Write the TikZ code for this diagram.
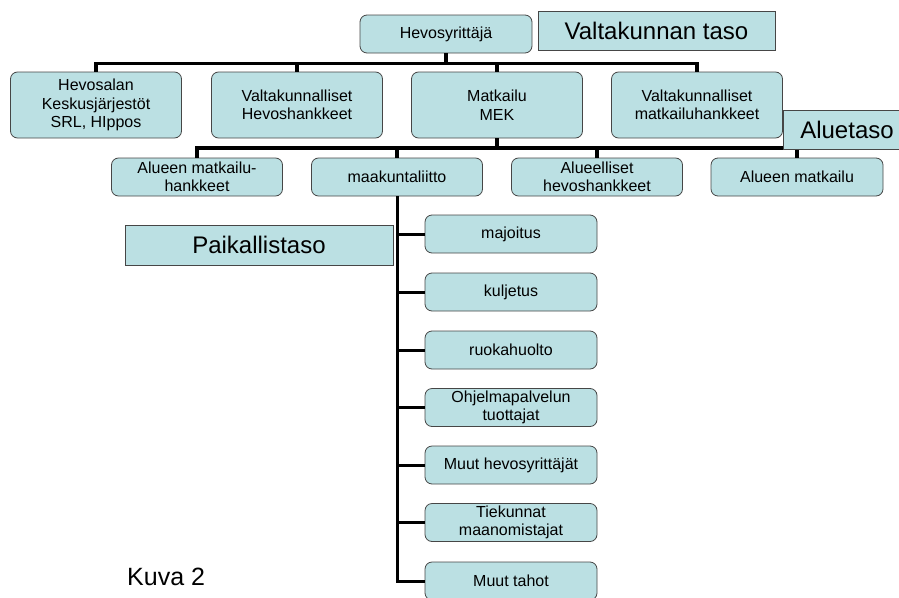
\documentclass[tikz,border=0pt]{standalone}
\usepackage{fontspec}
\setmainfont{Liberation Sans}
\usetikzlibrary{positioning, calc}
\definecolor{boxcyan}{RGB}{187,224,227}
\definecolor{boxline}{RGB}{70,70,70}
\tikzset{
    orgbox/.style={
        draw=boxline, fill=boxcyan, rounded corners=7pt, line width=0.8pt,
        align=center, inner sep=1pt, font=\fontsize{16}{18.5}\selectfont
    },
    bigbox/.style={
        orgbox, minimum width=171pt, minimum height=66pt
    },
    smallbox/.style={
        orgbox, minimum width=171pt, minimum height=38pt
    },
    levelbox/.style={
        draw=boxline, fill=boxcyan, line width=0.8pt, minimum height=39pt,
        font=\fontsize{24}{28}\selectfont
    },
    conn/.style={
        line width=3.5pt, black
    }
}

\begin{document}
\begin{tikzpicture}[x=1pt, y=-1pt]
    \useasboundingbox (0,0) rectangle (899,597);

    % --- valtakunnan taso ---
    \node[smallbox, minimum width=172pt] (yrittaja) at (446,34) {Hevosyrittäjä};
    \node[levelbox, minimum width=237pt] (valtakunta) at (656.5,30.5) {Valtakunnan taso};

    \node[bigbox] (keskus) at (96,105) {Hevosalan\\Keskusjärjestöt\\SRL, HIppos};
    \node[bigbox] (vhevos) at (297,105) {Valtakunnalliset\\Hevoshankkeet};
    \node[bigbox] (mek) at (497,105) {Matkailu\\MEK};
    \node[bigbox] (vmatkailu) at (697,105) {Valtakunnalliset\\matkailuhankkeet};

    % --- aluetaso ---
    \node[smallbox] (amhank) at (197,177) {Alueen matkailu-\\hankkeet};
    \node[smallbox] (maakunta) at (397,177) {maakuntaliitto};
    \node[smallbox] (ahevos) at (597,177) {Alueelliset\\hevoshankkeet};
    \node[smallbox, minimum width=172pt] (amatkailu) at (797,177) {Alueen matkailu};

    % --- paikallistaso ---
    \node[levelbox, minimum width=268pt, minimum height=40pt] (paikallinen) at (259,245) {Paikallistaso};

    \node[smallbox, minimum width=172pt] (majoitus) at (511,234) {majoitus};
    \node[smallbox, minimum width=172pt] (kuljetus) at (511,292) {kuljetus};
    \node[smallbox, minimum width=172pt] (ruoka) at (511,350) {ruokahuolto};
    \node[smallbox, minimum width=172pt] (ohjelma) at (511,407.5) {Ohjelmapalvelun\\tuottajat};
    \node[smallbox, minimum width=172pt] (muuthevos) at (511,465) {Muut hevosyrittäjät};
    \node[smallbox, minimum width=172pt] (tiekunnat) at (511,522.5) {Tiekunnat\\maanomistajat};
    \node[smallbox, minimum width=172pt] (muuttahot) at (511,581) {Muut tahot};

    % --- liitokset ---
    \foreach \n in {keskus, vhevos, mek, vmatkailu}
        \draw[conn] (yrittaja.south) -- ++(0,10) -| (\n.north);
    \foreach \n in {amhank, maakunta, ahevos, amatkailu}
        \draw[conn] (mek.south) -- ++(0,9.5) -| (\n.north);
    \foreach \n in {majoitus, kuljetus, ruoka, ohjelma, muuthevos, tiekunnat, muuttahot}
        \draw[conn, line width=3pt] (maakunta.south) |- (\n.west);

    % Aluetaso peittää väylän pään
    \node[levelbox, minimum width=128pt] (alue) at (847,129.5) {Aluetaso};

    \node[anchor=base west, inner sep=0pt, font=\fontsize{25}{30}\selectfont] (kuva) at (127,585) {Kuva 2};
\end{tikzpicture}
\end{document}
